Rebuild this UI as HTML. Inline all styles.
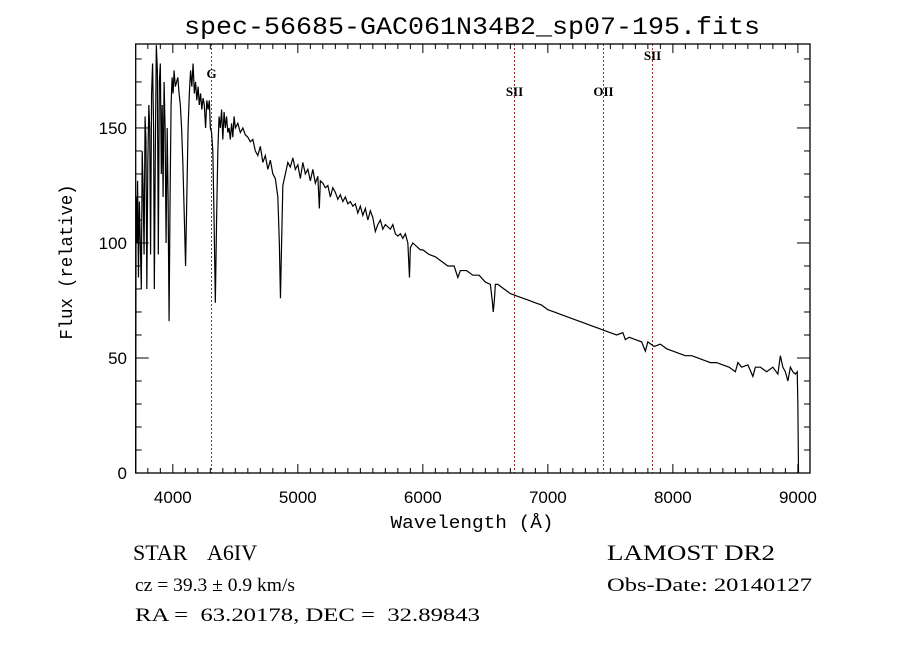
<!DOCTYPE html>
<html><head><meta charset="utf-8"><style>
html,body{margin:0;padding:0;background:#fff;}
svg{display:block;}
text{fill:#000;}
</style></head><body>
<svg id="chart" width="900" height="649" viewBox="0 0 900 649" xmlns="http://www.w3.org/2000/svg">
<rect x="0" y="0" width="900" height="649" fill="#fff"/>
<text x="472" y="34" text-anchor="middle" font-family="Liberation Mono, monospace" font-size="25" textLength="576" lengthAdjust="spacingAndGlyphs">spec-56685-GAC061N34B2_sp07-195.fits</text>
<g id="lines"></g>
<g id="ticks"></g>
<path id="spec" fill="none" stroke="#000" stroke-width="1.2" stroke-linejoin="miter"/>
<rect x="135.7" y="44" width="674.3" height="429" fill="none" stroke="#000" stroke-width="1.3"/>
<text x="472" y="528" text-anchor="middle" font-family="Liberation Mono, monospace" font-size="18" textLength="163" lengthAdjust="spacingAndGlyphs">Wavelength (Å)</text>
<text transform="translate(72,262) rotate(-90)" text-anchor="middle" font-family="Liberation Mono, monospace" font-size="18" textLength="155" lengthAdjust="spacingAndGlyphs">Flux (relative)</text>
<text x="133" y="560" font-family="Liberation Serif, serif" font-size="22">STAR</text>
<text x="207" y="560" font-family="Liberation Serif, serif" font-size="22">A6IV</text>
<text x="135" y="591" font-family="Liberation Serif, serif" font-size="19" textLength="160" lengthAdjust="spacingAndGlyphs">cz = 39.3 ± 0.9 km/s</text>
<text x="135" y="621" font-family="Liberation Serif, serif" font-size="19" textLength="345" lengthAdjust="spacingAndGlyphs" xml:space="preserve">RA =  63.20178, DEC =  32.89843</text>
<text x="607" y="560" font-family="Liberation Serif, serif" font-size="22" textLength="168" lengthAdjust="spacingAndGlyphs">LAMOST DR2</text>
<text x="607" y="591" font-family="Liberation Serif, serif" font-size="19" textLength="205" lengthAdjust="spacingAndGlyphs">Obs-Date: 20140127</text>
</svg>
<script>
const wavelengths = [3703,3706,3712,3718,3725,3732,3740,3748,3755,3762,3770,3778,3785,3792,3800,3808,3815,3822,3830,3838,3846,3852,3860,3868,3876,3884,3892,3900,3908,3915,3922,3930,3938,3946,3955,3962,3970,3978,3986,3994,4002,4010,4020,4030,4040,4050,4060,4070,4080,4090,4102,4112,4122,4132,4142,4152,4162,4172,4182,4192,4202,4212,4222,4232,4242,4252,4262,4272,4282,4292,4300,4310,4320,4330,4340,4350,4360,4370,4380,4390,4400,4410,4420,4430,4440,4450,4460,4470,4480,4490,4500,4520,4540,4560,4580,4600,4620,4640,4660,4680,4700,4720,4740,4760,4780,4800,4820,4840,4852,4861,4870,4880,4900,4920,4940,4960,4980,5000,5020,5040,5060,5080,5100,5120,5140,5160,5172,5180,5200,5220,5240,5260,5280,5300,5320,5340,5360,5380,5400,5420,5440,5460,5480,5500,5520,5540,5560,5580,5600,5620,5640,5660,5680,5700,5720,5740,5760,5780,5800,5820,5840,5860,5880,5893,5900,5920,5940,5960,5980,6000,6050,6100,6150,6200,6250,6280,6300,6350,6400,6450,6500,6540,6555,6563,6572,6580,6600,6650,6700,6750,6800,6850,6900,6950,7000,7050,7100,7150,7200,7250,7300,7350,7400,7450,7500,7550,7600,7620,7650,7700,7750,7780,7800,7850,7900,7950,8000,8050,8100,8150,8200,8250,8300,8350,8400,8450,8500,8520,8550,8600,8640,8660,8700,8750,8800,8840,8860,8880,8900,8920,8940,8960,8980,8995,9000,9005];
const fluxes = [0,120,100,127,85,118,100,80,140,125,95,155,145,80,135,160,150,95,165,178,150,80,140,186,175,95,170,178,130,160,120,170,150,100,150,120,66,120,160,172,165,175,168,170,172,165,160,150,135,115,90,120,150,165,175,168,178,165,170,162,168,160,165,158,163,160,150,162,158,162,150,148,140,110,74,110,140,155,150,158,145,157,150,155,148,150,145,152,146,155,150,152,148,150,147,146,144,145,140,138,142,135,138,132,136,130,128,120,100,76,100,125,130,135,133,137,132,134,128,135,130,132,127,132,126,129,115,127,126,124,125,120,124,122,119,121,118,120,117,118,116,117,113,116,112,115,110,114,111,105,108,110,106,108,107,106,108,104,103,104,102,104,100,85,98,100,99,98,97,97,95,94,92,90,90,85,88,88,86,86,83,82,75,70,75,82,82,80,78,77,76,75,74,73,71,70,69,68,67,66,65,64,63,62,61,60,61,58,59,58,57,53,57,55,56,54,53,52,51,51,50,49,48,48,47,46,44,48,46,47,42,46,46,44,46,43,51,46,44,40,46,44,43,44,30,0];
const xTickValues = [4000,5000,6000,7000,8000,9000];
const yTickValues = [0,50,100,150];
const markerWavelengths = [4304,6731,7445,7830];
const markerLabels = ['G','SII','OII','SII'];
const markerLabelY = [78,96,96,60];

const X0=135.7, X1=810, Y0=473, Y1=44, WMIN=3703, WMAX=9097, FMIN=0, FMAX=186.5;
function xs(w){return X0+(w-WMIN)/(WMAX-WMIN)*(X1-X0);}
function ys(f){return Y0-(f-FMIN)/(FMAX-FMIN)*(Y0-Y1);}
const NS='http://www.w3.org/2000/svg';
function mk(tag,attrs,parent){const e=document.createElementNS(NS,tag);for(const k in attrs)e.setAttribute(k,attrs[k]);parent.appendChild(e);return e;}

let d='';
for(let i=0;i<wavelengths.length;i++){d+=(i?'L':'M')+xs(wavelengths[i]).toFixed(2)+' '+ys(fluxes[i]).toFixed(2);}
document.getElementById('spec').setAttribute('d',d);

const tg=document.getElementById('ticks');
for(let w=3800;w<=9000;w+=100){
  const major=w%1000===0, L=major?9:5, x=xs(w);
  const t1=mk('line',{x1:x,x2:x,y1:Y0,y2:Y0-L,stroke:'#000','stroke-width':1},tg);
  
  
  const t2=mk('line',{x1:x,x2:x,y1:Y1,y2:Y1+L,stroke:'#000','stroke-width':1},tg);
  
  
}
for(let f=10;f<=180;f+=10){
  const major=f%50===0, L=major?13:6, y=ys(f);
  const t1=mk('line',{x1:X0,x2:X0+L,y1:y,y2:y,stroke:'#000','stroke-width':1},tg);
  
  
  const t2=mk('line',{x1:X1,x2:X1-L,y1:y,y2:y,stroke:'#000','stroke-width':1},tg);
  
  
}
xTickValues.forEach(v=>{
  const t=mk('text',{x:xs(v),y:503,'text-anchor':'middle','font-family':'Liberation Sans, sans-serif','font-size':17},tg);
  
  
  t.textContent=v;
});
yTickValues.forEach(v=>{
  const t=mk('text',{x:127,y:ys(v)+6,'text-anchor':'end','font-family':'Liberation Sans, sans-serif','font-size':17},tg);
  
  
  t.textContent=v;
});
const lg=document.getElementById('lines');
markerWavelengths.forEach((w,i)=>{
  const x=Math.round(xs(w))+0.5;
  const l=mk('line',{x1:x,x2:x,y1:Y1,y2:Y0,stroke:'#a0282a','stroke-width':1,'stroke-dasharray':'2,2'},lg);
  
  
  const t=mk('text',{x:x,y:markerLabelY[i],'text-anchor':'middle','font-family':'Liberation Serif, serif','font-size':13,'font-weight':'bold'},lg);
  
  
  t.textContent=markerLabels[i];
});
</script>
</body></html>
